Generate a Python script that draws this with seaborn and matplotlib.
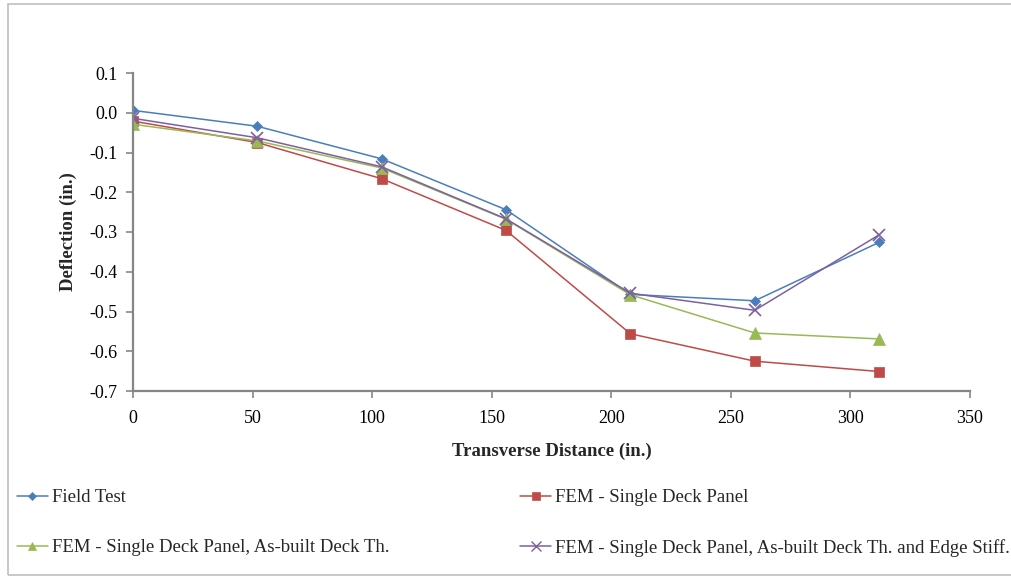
import matplotlib
matplotlib.use("Agg")
import matplotlib.pyplot as plt
import seaborn as sns
import pandas as pd
from matplotlib.ticker import FormatStrFormatter, MultipleLocator
from matplotlib.patches import Rectangle

distance = [0, 52, 104, 156, 208, 260, 312]
field_test = [0.006, -0.034, -0.116, -0.244, -0.457, -0.473, -0.326]
fem_single = [-0.021, -0.075, -0.166, -0.296, -0.556, -0.625, -0.651]
fem_asbuilt = [-0.029, -0.071, -0.139, -0.268, -0.458, -0.554, -0.569]
fem_edge = [-0.014, -0.063, -0.136, -0.267, -0.454, -0.497, -0.307]

labels = ["Field Test", "FEM - Single Deck Panel",
          "FEM - Single Deck Panel, As-built Deck Th.",
          "FEM - Single Deck Panel, As-built Deck Th. and Edge Stiff."]
colors = ["#4A7EBB", "#BE4B48", "#98B954", "#7D60A0"]
markers = ["D", "s", "^", "x"]
msizes = [5.5, 6.5, 8, 8.5]

rows = []
for lab, vals in zip(labels, [field_test, fem_single, fem_asbuilt, fem_edge]):
    for d, v in zip(distance, vals):
        rows.append({"Transverse Distance (in.)": d, "Deflection (in.)": v, "Series": lab})
df = pd.DataFrame(rows)

sns.set_theme(style="white")
plt.rcParams["font.family"] = ["Liberation Serif", "DejaVu Serif"]
plt.rcParams["axes.unicode_minus"] = False

fig = plt.figure(figsize=(10.11, 5.77), dpi=100)
ax = fig.add_axes([133 / 1011, 1 - 391 / 577, (970 - 133) / 1011, (391 - 73) / 577])

handles = []
for lab, col, mk, ms in zip(labels, colors, markers, msizes):
    sub = df[df["Series"] == lab]
    sns.lineplot(data=sub, x="Transverse Distance (in.)", y="Deflection (in.)",
                 ax=ax, color=col, marker=mk, markersize=ms, linewidth=1.1,
                 markeredgecolor=col, markeredgewidth=1.2 if mk == "x" else 0.5,
                 legend=False, sort=False)
    h, = ax.plot([], [], color=col, marker=mk, markersize=ms * 0.8, linewidth=1.1,
                 markeredgecolor=col, markeredgewidth=1.0 if mk == "x" else 0.5)
    handles.append(h)

ax.set_xlim(0, 350)
ax.set_ylim(-0.7, 0.1)
ax.xaxis.set_major_locator(MultipleLocator(50))
ax.yaxis.set_major_locator(MultipleLocator(0.1))
ax.yaxis.set_major_formatter(FormatStrFormatter("%.1f"))

for s in ["top", "right"]:
    ax.spines[s].set_visible(False)
for s in ["left", "bottom"]:
    ax.spines[s].set_color("#868686")
    ax.spines[s].set_linewidth(1.6)
ax.tick_params(axis="both", direction="out", length=5, width=1.2, color="#868686",
               labelsize=13, labelcolor="black", pad=6, left=True, bottom=True)
ax.tick_params(axis="x", pad=9)

ax.set_xlabel("Transverse Distance (in.)", fontsize=13.5, fontweight="bold", labelpad=11)
ax.set_ylabel("Deflection (in.)", fontsize=13.5, fontweight="bold", labelpad=9)

order = [0, 2, 1, 3]
fig.legend([handles[i] for i in order], [labels[i] for i in order],
           ncol=2, loc="upper left", bbox_to_anchor=(17 / 1011, 1 - 489 / 577),
           frameon=False, fontsize=13.5, handlelength=1.65, handletextpad=0.2,
           columnspacing=7.0, labelspacing=1.75, borderaxespad=0, borderpad=0)

fig.patches.append(Rectangle((8 / 1011, 1 - 575 / 577), 1.2, (575 - 4) / 577,
                             transform=fig.transFigure, fill=False,
                             edgecolor="#BFBFBF", linewidth=1.2))

fig.savefig("out.png", dpi=100)
